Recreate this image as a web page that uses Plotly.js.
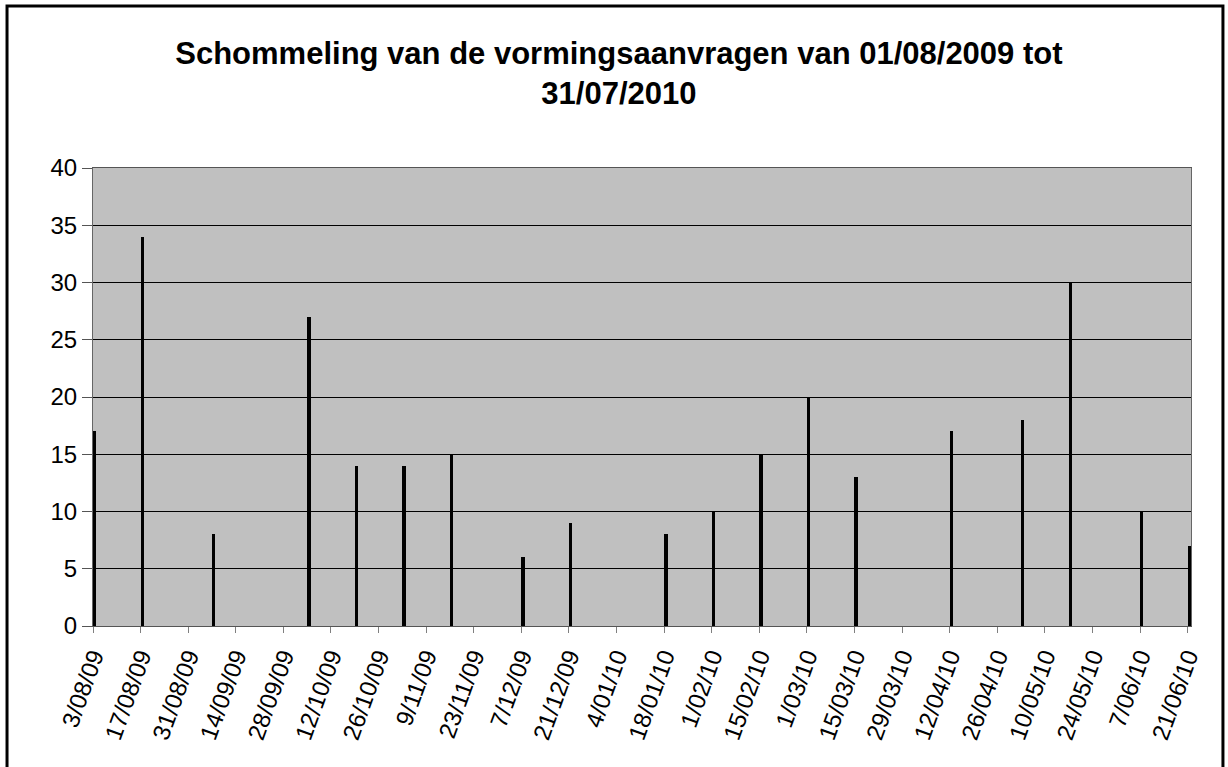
<!DOCTYPE html>
<html>
<head>
<meta charset="utf-8">
<script src="https://cdn.plot.ly/plotly-3.0.1.min.js"></script>
<style>
html,body{margin:0;padding:0;background:#fff;}
#chart{width:1228px;height:767px;}
</style>
</head>
<body>
<div id="chart"></div>
<script>
const dates = ['2009-08-03','2009-08-17','2009-09-07','2009-10-05','2009-10-19','2009-11-02','2009-11-16','2009-12-07','2009-12-21','2010-01-18','2010-02-01','2010-02-15','2010-03-01','2010-03-15','2010-04-12','2010-05-03','2010-05-17','2010-06-07','2010-06-21'];
const requests = [17,34,8,27,14,14,15,6,9,8,10,15,20,13,17,18,30,10,7];
const titleText = 'Schommeling van de vormingsaanvragen van 01/08/2009 tot<br>31/07/2010';
const yTicks = [0,5,10,15,20,25,30,35,40];

const DAY = 86400000;
const trace = {
  type: 'bar',
  x: dates,
  y: requests,
  width: dates.map(() => DAY),
  offset: 0,
  marker: {color: '#000000', line: {width: 0}},
  hoverinfo: 'x+y'
};

const layout = {
  width: 1228, height: 767,
  margin: {l: 93, r: 37, t: 168, b: 141},
  paper_bgcolor: '#ffffff',
  plot_bgcolor: '#c0c0c0',
  showlegend: false,
  font: {family: 'Liberation Sans, Arial, sans-serif', color: '#000'},
  title: {
    text: titleText,
    font: {family: 'Liberation Sans, Arial, sans-serif', size: 31, color: '#000', weight: 'bold'},
    x: 0.504, xanchor: 'center', y: 0.917, yanchor: 'top', yref: 'container'
  },
  xaxis: {
    type: 'date',
    range: ['2009-08-03', '2010-06-22'],
    tick0: '2009-08-03',
    dtick: 14 * DAY,
    tickformat: '%-d/%m/%y',
    tickangle: -70,
    ticks: 'outside', ticklen: 6, tickcolor: '#808080', tickwidth: 1,
    tickfont: {size: 24, color: '#000'},
    showgrid: false,
    showline: true, linecolor: '#555555', linewidth: 1, mirror: true,
    zeroline: false, fixedrange: true
  },
  yaxis: {
    range: [0, 40],
    tickvals: yTicks,
    ticktext: yTicks.map(String),
    ticks: 'outside', ticklen: 10, tickcolor: '#555555', tickwidth: 1,
    tickfont: {size: 24, color: '#000'},
    showgrid: true, gridcolor: '#000000', gridwidth: 1,
    showline: true, linecolor: '#666666', linewidth: 1, mirror: true,
    zeroline: false, fixedrange: true
  },
  shapes: [{
    type: 'rect', xref: 'paper', yref: 'paper', layer: 'above',
    x0: -0.0783, x1: 1.0291, y0: -0.6, y1: 1.3537,
    line: {color: '#000000', width: 3}, fillcolor: 'rgba(0,0,0,0)'
  }],
  bargap: 0
};

Plotly.newPlot('chart', [trace], layout, {displayModeBar: false, staticPlot: true});
</script>
</body>
</html>
